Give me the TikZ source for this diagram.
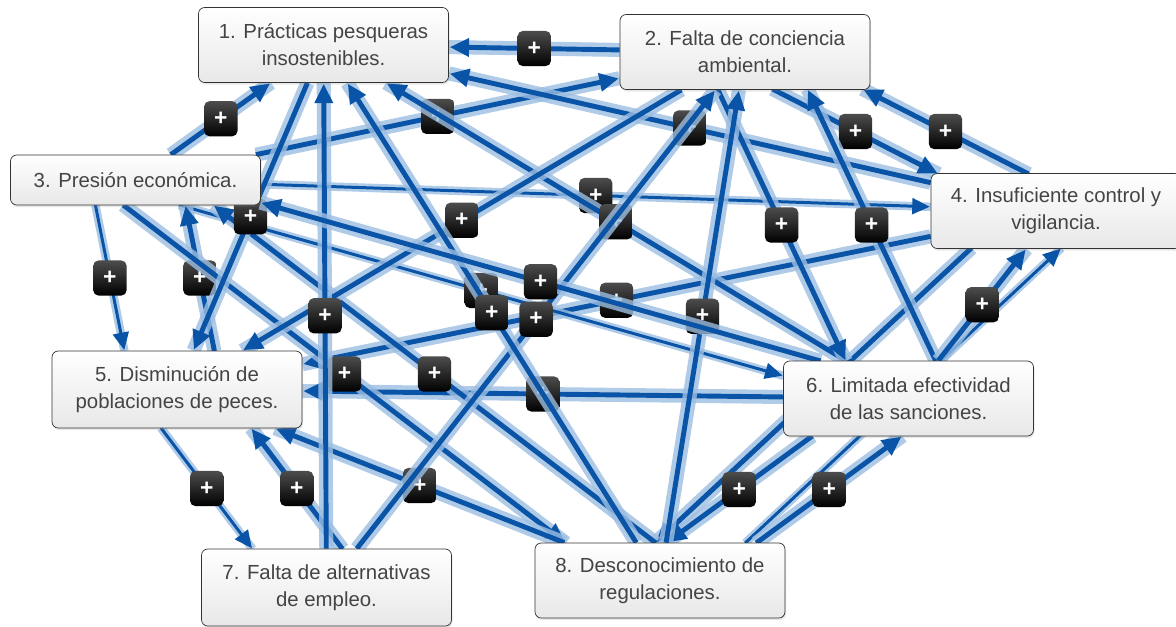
\documentclass[tikz,border=0pt]{standalone}
\usepackage{fontspec}
\setmainfont{Liberation Sans}
\usetikzlibrary{arrows.meta,calc,shadows}
\definecolor{linkblue}{RGB}{10,84,168}
\definecolor{haloblue}{RGB}{155,190,226}
\definecolor{boxtext}{RGB}{68,68,68}
\pgfdeclarelayer{background}
\pgfsetlayers{background,main}
\tikzset{
  box/.style={draw=black!80, rounded corners=3.5pt, top color=white, bottom color=black!9,
    minimum width=5cm, minimum height=1.5cm, align=center, text=boxtext,
    font=\fontsize{11.6}{15.3}\selectfont,
    drop shadow={opacity=0.18, shadow xshift=0.6pt, shadow yshift=-1.2pt}},
  link/.style={draw=linkblue, line width=2.8pt, -{Triangle[length=11pt,width=10pt]}, shorten >=0.5pt,
    preaction={draw=haloblue, draw opacity=0.8, line width=8pt, -, shorten >=0pt}},
  thinlink/.style={draw=linkblue, line width=1.7pt, -{Triangle[length=10pt,width=9pt]}, shorten >=0.5pt,
    preaction={draw=haloblue, draw opacity=0.8, line width=4.8pt, -, shorten >=0pt}},
  badge/.style={rounded corners=3pt, minimum width=19pt, minimum height=20pt, inner sep=0pt,
    top color=black!70, bottom color=black, text=white, font=\bfseries\fontsize{13}{13}\selectfont},
}

\begin{document}
\begin{tikzpicture}[x=0.02cm,y=-0.02cm]
  \useasboundingbox (0,0) rectangle (1176,626);

  %factors
  \node[box] (n1) at (323.5,45) {1. Prácticas pesqueras\\insostenibles.};
  \node[box] (n2) at (745,52) {2. Falta de conciencia\\ambiental.};
  \node[box, minimum height=1cm] (n3) at (135.5,180) {3. Presión económica.};
  \node[box] (n4) at (1056,211) {4. Insuficiente control y\\vigilancia.};
  \node[box, minimum height=1.54cm] (n5) at (177,389.5) {5. Disminución de\\poblaciones de peces.};
  \node[box] (n6) at (908.5,398.5) {6. Limitada efectividad\\de las sanciones.};
  \node[box, minimum height=1.54cm] (n7) at (326.5,587.5) {7. Falta de alternativas\\de empleo.};
  \node[box] (n8) at (660,580.5) {8. Desconocimiento de\\regulaciones.};

  \begin{pgfonlayer}{background}
    \fill[white] (0,0) rectangle (1176,626);

    %4 and 8 pass behind 6
    \draw[link] ($(n4.center)+(-84.6,37)$) -- ($(n8.center)+(-4.8,-37.5)$);
    \draw[thinlink] ($(n8.center)+(85.2,-37.5)$) -- ($(n4.center)+(5.4,37)$);
    \draw[thinlink] (n3) -- node[badge] {+} (n4);

    \foreach \a/\b in {n3/n2, n4/n5, n6/n5, n4/n1, n6/n1}
      \draw[link] (\a) -- node[badge] {+} (\b);

    %two-way pairs, shifted sideways
    \draw[thinlink] ($(n3.center)+(43.4,25)$) -- node[badge] {+} ($(n6.center)+(-125,-22.6)$);
    \draw[thinlink] ($(n3.center)+(-40.1,25)$) -- node[badge] {+} ($(n5.center)+(-52.6,-38.5)$);
    \draw[link] ($(n5.center)+(37.4,-38.5)$) -- node[badge] {+} ($(n3.center)+(49.9,25)$);
    \draw[thinlink] ($(n5.center)+(-16,38.5)$) -- node[badge] {+} ($(n7.center)+(-74,-38.5)$);
    \draw[link] ($(n7.center)+(16,-38.5)$) -- node[badge] {+} ($(n5.center)+(74,38.5)$);
    \draw[link] ($(n2.center)+(27.4,37)$) -- node[badge] {+} ($(n4.center)+(-117.4,-37)$);
    \draw[link] ($(n4.center)+(-27.4,-37)$) -- node[badge] {+} ($(n2.center)+(117.4,37)$);
    \draw[link] ($(n2.center)+(-27.5,37)$) -- node[badge] {+} ($(n6.center)+(-62.7,-37.5)$);
    \draw[link] ($(n6.center)+(27.3,-37.5)$) -- node[badge] {+} ($(n2.center)+(62.5,37)$);
    \draw[link] ($(n6.center)+(-96.2,37.5)$) -- node[badge] {+} ($(n8.center)+(6.2,-37.5)$);
    \draw[link] ($(n8.center)+(96.2,-37.5)$) -- node[badge] {+} ($(n6.center)+(-6.2,37.5)$);
    \draw[link] ($(n3.center)+(-12.3,25)$) -- node[badge] {+} ($(n8.center)+(-94.1,-37.5)$);
    \draw[link] ($(n8.center)+(-4.1,-37.5)$) -- node[badge] {+} ($(n3.center)+(77.7,25)$);

    \foreach \a/\b in {n2/n1, n3/n1, n1/n5, n2/n5, n8/n2, n6/n4, n8/n5, n7/n1, n7/n2, n8/n1}
      \draw[link] (\a) -- node[badge] {+} (\b);
    \draw[link] ($(n6.center)+(-87.9,-37.5)$) -- node[badge] {+} ($(n3.center)+(125,22.6)$);
  \end{pgfonlayer}
\end{tikzpicture}
\end{document}
